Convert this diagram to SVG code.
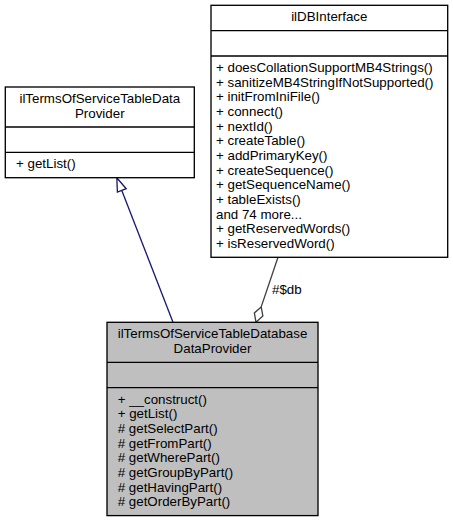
<svg xmlns="http://www.w3.org/2000/svg" width="453" height="521" viewBox="0 0 453 521">
<style>
text{font-family:"Liberation Sans",Arial,Helvetica,sans-serif;font-size:13.33px;fill:#000}
.box{fill:#fff;stroke:#000;stroke-width:1.33}
.cur{fill:#bfbfbf;stroke:#000;stroke-width:1.33}
.sep{stroke:#000;stroke-width:1.33;fill:none}
.mid{text-anchor:middle}
.inh{stroke:#191970;stroke-width:1.33;fill:none}
.agg{stroke:#404040;stroke-width:1.33;fill:none}
</style>
<rect width="453" height="521" fill="#fff"/>
<g id="connectors">
<path class="inh" d="M173,322.3 L121.8,190.4"/>
<polygon class="inh" fill="#fff" style="fill:#fff" points="116.8,177.7 126.2,188.7 117.4,192.1"/>
<path class="agg" d="M278,257.3 L261.2,306.9"/>
<polygon class="agg" style="fill:#fff" points="256,322.3 254.35,312.9 261.2,306.9 262.85,315.9"/>
<text x="272" y="294">#$db</text>
</g>
<g id="node-ilTermsOfServiceTableDataProvider">
<rect class="box" x="5.3" y="87" width="189" height="90.7"/>
<text class="mid" x="99.8" y="103">ilTermsOfServiceTableData</text>
<text class="mid" x="99.8" y="117.7">Provider</text>
<line class="sep" x1="5.3" y1="127" x2="194.3" y2="127"/>
<line class="sep" x1="5.3" y1="152.3" x2="194.3" y2="152.3"/>
<text x="16" y="168.3">+ getList()</text>
</g>
<g id="node-ilDBInterface">
<rect class="box" x="211" y="5.3" width="236.7" height="252"/>
<text class="mid" x="329.3" y="21.3">ilDBInterface</text>
<line class="sep" x1="211" y1="30.6" x2="447.7" y2="30.6"/>
<line class="sep" x1="211" y1="56" x2="447.7" y2="56"/>
<text x="216" y="72">+ doesCollationSupportMB4Strings()</text>
<text x="216" y="86.7">+ sanitizeMB4StringIfNotSupported()</text>
<text x="216" y="101.3">+ initFromIniFile()</text>
<text x="216" y="116">+ connect()</text>
<text x="216" y="130.7">+ nextId()</text>
<text x="216" y="145.3">+ createTable()</text>
<text x="216" y="160">+ addPrimaryKey()</text>
<text x="216" y="174.7">+ createSequence()</text>
<text x="216" y="189.3">+ getSequenceName()</text>
<text x="216" y="204">+ tableExists()</text>
<text x="216" y="218.7">and 74 more...</text>
<text x="216" y="233.3">+ getReservedWords()</text>
<text x="216" y="248">+ isReservedWord()</text>
</g>
<g id="node-ilTermsOfServiceTableDatabaseDataProvider">
<rect class="cur" x="107" y="322.3" width="211" height="193.3"/>
<text class="mid" x="212.5" y="338.3">ilTermsOfServiceTableDatabase</text>
<text class="mid" x="212.5" y="353">DataProvider</text>
<line class="sep" x1="107" y1="362.3" x2="318" y2="362.3"/>
<line class="sep" x1="107" y1="387.7" x2="318" y2="387.7"/>
<text x="117.7" y="403.7">+ __construct()</text>
<text x="117.7" y="418.3">+ getList()</text>
<text x="117.7" y="433">#  getSelectPart()</text>
<text x="117.7" y="447.7">#  getFromPart()</text>
<text x="117.7" y="462.3">#  getWherePart()</text>
<text x="117.7" y="477">#  getGroupByPart()</text>
<text x="117.7" y="491.7">#  getHavingPart()</text>
<text x="117.7" y="506.3">#  getOrderByPart()</text>
</g>
</svg>
